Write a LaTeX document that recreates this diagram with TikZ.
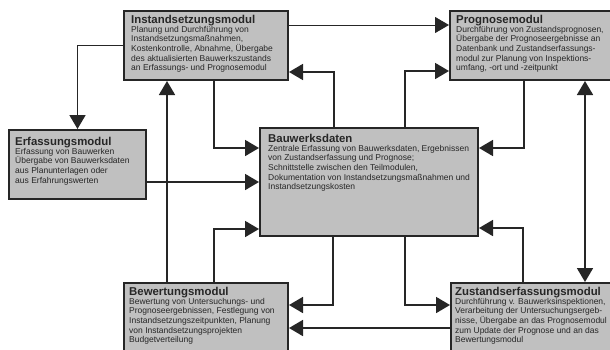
\documentclass[tikz,border=0pt]{standalone}
\usepackage{fontspec}
\setmainfont{Liberation Sans}
\usetikzlibrary{arrows.meta, calc}

\definecolor{boxgray}{RGB}{192,192,192}
\definecolor{linegray}{RGB}{38,38,38}

\newcommand{\modtitle}[1]{{\fontsize{11.4}{12}\selectfont\bfseries #1}\\[-1pt]}

\begin{document}
\begin{tikzpicture}
    [x=1pt, y=-1pt,
    modul/.style={
        rectangle,
        draw=linegray,
        line width=2pt,
        fill=boxgray,
        anchor=north west,
        inner sep=0pt
    },
    modtext/.style={
        anchor=north west,
        inner sep=0pt,
        align=left,
        text=linegray,
        font=\fontsize{8.5}{9.7}\selectfont
    },
    line/.style={
        draw=linegray, line width=1.8pt, -{Triangle[length=14pt,width=16pt]}
    },
    thinline/.style={line, line width=1pt},
    twoway/.style={line, {Triangle[length=14pt,width=16pt]}-{Triangle[length=14pt,width=16pt]}}
    ]

    \useasboundingbox (0,0) rectangle (610,349);
    \clip (0,0) rectangle (610,349);

    % Module boxes
    \node[modul, minimum width=164, minimum height=69] (inst) at (123,10) {};
    \node[modul, minimum width=165, minimum height=69] (prog) at (449,10) {};
    \node[modul, minimum width=137, minimum height=69] (erf) at (8,129) {};
    \node[modul, minimum width=218, minimum height=108] (bau) at (259,127) {};
    \node[modul, minimum width=164, minimum height=70] (bew) at (123,282) {};
    \node[modul, minimum width=164, minimum height=70] (zus) at (450,282) {};

    % Texts
    \node[modtext] (inst-text) at ([shift={(8pt,-5pt)}]inst.north west)
        {\modtitle{Instandsetzungsmodul}Planung und Durchführung von\\Instandsetzungsmaßnahmen,\\
        Kostenkontrolle, Abnahme, Übergabe\\des aktualisierten Bauwerkszustands\\an Erfassungs- und Prognosemodul};
    \node[modtext] (prog-text) at ([shift={(7pt,-5pt)}]prog.north west)
        {\modtitle{Prognosemodul}Durchführung von Zustandsprognosen,\\Übergabe der Prognoseergebnisse an\\
        Datenbank und Zustandserfassungs-\\modul zur Planung von Inspektions-\\umfang, -ort und -zeitpunkt};
    \node[modtext] (erf-text) at ([shift={(7pt,-8pt)}]erf.north west)
        {\modtitle{Erfassungsmodul}Erfassung von Bauwerken\\Übergabe von Bauwerksdaten\\
        aus Planunterlagen oder\\aus Erfahrungswerten};
    \node[modtext] (bau-text) at ([shift={(9pt,-7pt)}]bau.north west)
        {\modtitle{Bauwerksdaten}Zentrale Erfassung von Bauwerksdaten, Ergebnissen\\von Zustandserfassung und Prognose;\\
        Schnittstelle zwischen den Teilmodulen,\\Dokumentation von Instandsetzungsmaßnahmen und\\Instandsetzungskosten};
    \node[modtext] (bew-text) at ([shift={(6pt,-5pt)}]bew.north west)
        {\modtitle{Bewertungsmodul}Bewertung von Untersuchungs- und\\Prognoseergebnissen, Festlegung von\\
        Instandsetzungszeitpunkten, Planung\\von Instandsetzungsprojekten\\Budgetverteilung};
    \node[modtext] (zus-text) at ([shift={(5pt,-5pt)}]zus.north west)
        {\modtitle{Zustandserfassungsmodul}Durchführung v. Bauwerksinspektionen,\\Verarbeitung der Untersuchungsergeb-\\
        nisse, Übergabe an das Prognosemodul\\zum Update der Prognose und an das\\Bewertungsmodul};

    % Connectors around the top
    \path [thinline] ([yshift=-15pt]inst.north east) -- ([yshift=-15pt]prog.north west);
    \path [line] (inst.west) -| (erf.north);
    \path [line] ([xshift=75pt]bau.north west) |- ([yshift=9pt]inst.south east);
    \path [line] ([xshift=91pt]inst.south west) |- ([yshift=-21pt]bau.north west);
    \path [line] ([xshift=-74pt]bau.north east) |- ([yshift=10pt]prog.south west);
    \path [line] ([xshift=75pt]prog.south west) |- ([yshift=-21pt]bau.north east);
    \path [twoway] ([xshift=136pt]prog.south west) -- ([xshift=136pt]prog.south west |- zus.north);

    % Connectors on the left
    \path [line] ([xshift=44pt]bew.north west) -- ([xshift=44pt]inst.south west);
    \path [line] (erf.east |- bau.west) -- (bau.west);
    \path [line] ([xshift=91pt]bew.north west) |- ([yshift=8pt]bau.south west);

    % Connectors around the bottom
    \path [line] ([xshift=73pt]zus.north west) |- ([yshift=9pt]bau.south east);
    \path [line] ([xshift=-74pt]bau.south east) |- ([yshift=-23pt]zus.north west);
    \path [line] ([xshift=74pt]bau.south west) |- ([yshift=-23pt]bew.north east);
    \path [line] ([yshift=-46pt]zus.north west) -- ([yshift=-46pt]bew.north east);
\end{tikzpicture}
\end{document}
